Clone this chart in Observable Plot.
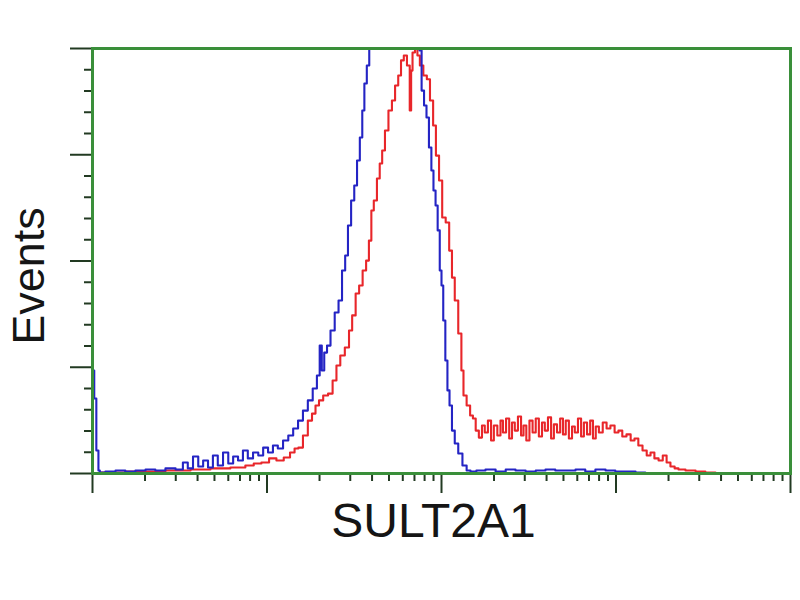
<!DOCTYPE html>
<html>
<head>
<meta charset="utf-8">
<script src="https://cdn.jsdelivr.net/npm/d3@7"></script>
<script src="https://cdn.jsdelivr.net/npm/@observablehq/plot@0.6"></script>
<style>
  html, body { margin: 0; padding: 0; background: #ffffff; }
  #chart svg { display: block; }
</style>
</head>
<body>
<div id="chart"></div>
<script>
// Log-scale fluorescence channel (250 channels per decade, 4 decades) and event counts
const blueChannel = [0,1,4,7,10,11,26,40,54,69,83,97,112,126,133,140,148,155,162,169,176,183,191,198,205,212,219,226,234,241,248,255,262,269,277,284,291,298,305,312,319,324,327,330,334,338,344,350,355,360,364,368,373,377,381,385,388,391,395,398,405,430,450,467,470,473,477,480,484,487,490,493,496,499,501,504,507,510,513,517,521,527,533,539,544,556,570,585,599,613,628,642,656,670,685,699,713,728,742,756,771,785,799];
const blueCount   = [0,48.5,35.3,10.8,1.4,0.5,0.9,1.4,0.9,1.4,1.9,1.4,2.4,1.9,5.2,2.4,8.0,3.3,6.1,2.8,8.5,3.8,9.9,4.7,8.0,6.1,10.8,7.1,9.9,8.5,12.2,9.9,13.2,11.8,15.5,17.9,21.2,24.9,29.6,34.4,40,46.1,60.2,48.5,56.9,60.2,67.3,75.8,81.4,95.5,102.6,116.7,128.5,135.5,147.3,158.1,170.8,183.5,192,200,213,213,213,208.5,199.1,180.2,173.2,167.5,153.4,142.6,133.2,126.1,114.4,95.5,88.5,72,53.2,39.1,32,20.2,14.1,9.4,3.8,1.4,0.9,1.4,1.9,0.9,1.9,1.4,0.9,1.4,1.9,1.4,1.4,1.9,0.9,1.9,1.4,0.9,0.9,0.5,0];

const redChannel = [11,83,126,155,183,212,226,236,248,258,269,279,287,292,298,305,312,317,322,327,334,341,347,352,358,365,370,374,380,384,390,394,398,401,405,410,413,417,421,427,431,436,440,444,448,453,456,457,460,464,467,471,477,481,486,490,494,499,503,509,513,517,521,527,530,533,539,543,547,551,556,560,564,569,573,577,583,586,590,595,599,603,607,612,616,619,624,628,633,637,642,646,650,655,659,663,668,672,676,680,685,689,693,698,702,706,711,715,719,723,728,734,739,745,751,756,762,768,774,779,785,791,797,802,808,814,820,825,831,837,842,857,871,885,900];
const redCount   = [0.5,0.9,1.4,1.9,2.4,2.8,3.8,4.7,5.2,7.1,6.1,7.5,9.9,11.8,12.2,17.9,24.9,28.2,32.0,34.4,36.7,37.6,43.8,50.8,55.5,59.3,67.3,74.4,84.7,88.5,95.5,100.2,109.6,123.8,128.5,138.8,145.9,152,161.4,170.8,175.5,182.6,187.3,194.4,196.7,192,170.8,189.6,198.1,200,196.7,192,187.3,185.5,175.5,163.8,149.6,137.9,120.5,118.1,104.9,92.2,81.4,65.9,48.5,36.7,32.0,27.3,25.9,20.2,16.9,22.6,19.3,24.9,15.5,22.6,17.9,24.9,19.3,25.9,16.5,24.0,20.2,26.8,17.9,22.6,15.5,24.9,19.3,25.9,17.4,24.0,20.2,26.4,16.5,23.1,19.3,25.9,18.4,24.9,16.5,22.1,19.3,25.9,17.4,24.0,18.4,24.9,16.5,22.1,19.3,24.0,21.2,22.6,19.3,20.2,17.4,18.4,15.5,16.5,13.2,10.8,8.5,9.9,7.1,6.1,8.5,5.2,3.3,2.4,1.9,1.4,0.9,0.5,0];

const xMajorTicks = [0, 250, 500, 750, 1000];
const xMinorMultipliers = [2, 3, 4, 5, 6, 7, 8, 9];
const yMajorTicks = [0, 50, 100, 150, 200];
const yMinorTicks = [10,20,30,40,60,70,80,90,110,120,130,140,160,170,180,190];
const xLabel = "SULT2A1";
const yLabel = "Events";

const xMinorTicks = xMajorTicks.slice(0, -1).flatMap(d => xMinorMultipliers.map(k => d + 250 * Math.log10(k)));

const blue = blueChannel.map((c, i) => ({channel: c, count: blueCount[i]}));
const red = redChannel.map((c, i) => ({channel: c, count: redCount[i]}));

const tickColor = "#223a22";
const noLabel = () => "";

const chart = Plot.plot({
  width: 800,
  height: 600,
  marginLeft: 92,
  marginRight: 10,
  marginTop: 48,
  marginBottom: 127,
  x: {domain: [0, 1000]},
  y: {domain: [0, 200]},
  style: {fontFamily: "'Liberation Sans', Arial, sans-serif", background: "#ffffff"},
  marks: [
    Plot.axisX(xMinorTicks, {anchor: "bottom", tickSize: 8, tickFormat: noLabel, label: null, stroke: tickColor, strokeWidth: 2}),
    Plot.axisX(xMajorTicks, {anchor: "bottom", tickSize: 20, tickFormat: noLabel, label: null, stroke: tickColor, strokeWidth: 2}),
    Plot.axisY(yMinorTicks, {anchor: "left", tickSize: 8, tickFormat: noLabel, label: null, stroke: tickColor, strokeWidth: 2}),
    Plot.axisY(yMajorTicks, {anchor: "left", tickSize: 22, tickFormat: noLabel, label: null, stroke: tickColor, strokeWidth: 2}),
    Plot.line(red, {x: "channel", y: "count", curve: "step", stroke: "#e8262a", strokeWidth: 2.1, clip: true}),
    Plot.line(blue, {x: "channel", y: "count", curve: "step", stroke: "#2424c4", strokeWidth: 2.1, clip: true}),
    Plot.frame({stroke: "#3a8f3a", strokeWidth: 3}),
    Plot.text([xLabel], {frameAnchor: "bottom", textAnchor: "middle", lineAnchor: "middle", dx: -8, dy: 48, fontSize: 48, fill: "#151515"}),
    Plot.text([yLabel], {frameAnchor: "left", textAnchor: "middle", lineAnchor: "middle", rotate: -90, dx: -63, dy: 15, fontSize: 45, fill: "#151515"})
  ]
});
document.getElementById("chart").appendChild(chart);
</script>
</body>
</html>
